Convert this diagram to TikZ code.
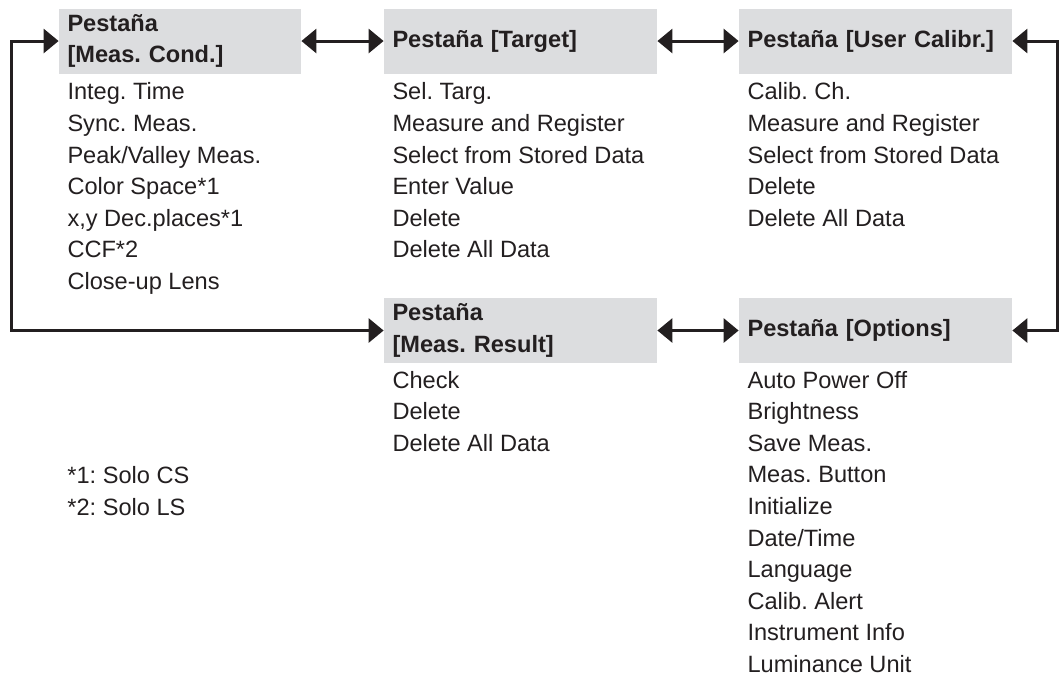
\documentclass[tikz,border=0pt]{standalone}
\usepackage{fontspec}
\setmainfont{Liberation Sans}
\usepackage{xcolor}
\usetikzlibrary{arrows.meta,positioning}

\definecolor{tabgray}{RGB}{220,221,223}
\definecolor{inkgray}{RGB}{35,31,32}

\begin{document}
\frenchspacing
\begin{tikzpicture}[
    x=0.5pt, y=-0.5pt,
    every node/.style={text=inkgray},
    tab/.style={fill=tabgray, text width=128pt, minimum height=32.5pt, inner xsep=4.25pt, inner ysep=0pt, align=left, font=\fontsize{11.8}{15.8}\selectfont\bfseries},
    items/.style={inner sep=0pt, align=left, font=\fontsize{11.8}{15.8}\selectfont},
    link/.style={{Triangle[length=7.5pt,width=12pt]}-{Triangle[length=7.5pt,width=12pt]}, line width=1.5pt, draw=inkgray}
]
    \useasboundingbox (0,0) rectangle (1059,677);

    % Tabs
    \node [tab, text width=112.5pt] (cond) at (180,41) {Pestaña\\{}[Meas. Cond.]};
    \node [tab] (targ) at (520.5,41) {Pestaña [Target]};
    \node [tab] (ucal) at (875.5,41) {Pestaña [User Calibr.]};
    \node [tab] (result) at (520.5,330.5) {Pestaña\\{}[Meas. Result]};
    \node [tab] (opts) at (875.5,330.5) {Pestaña [Options]};

    % Menu items
    \node [items, below right=4.2pt and 4.25pt of cond.south west] (condlist) {Integ. Time\\Sync. Meas.\\Peak/Valley Meas.\\Color Space*1\\x,y Dec.places*1\\CCF*2\\Close-up Lens};
    \node [items, below right=4.2pt and 4.25pt of targ.south west] (targlist) {Sel. Targ.\\Measure and Register\\Select from Stored Data\\Enter Value\\Delete\\Delete All Data};
    \node [items, below right=4.2pt and 4.25pt of ucal.south west] (ucallist) {Calib. Ch.\\Measure and Register\\Select from Stored Data\\Delete\\Delete All Data};
    \node [items, below right=3.6pt and 4.25pt of result.south west] (resultlist) {Check\\Delete\\Delete All Data};
    \node [items, below right=3.6pt and 4.25pt of opts.south west] (optslist) {Auto Power Off\\Brightness\\Save Meas.\\Meas. Button\\Initialize\\Date/Time\\Language\\Calib. Alert\\Instrument Info\\Luminance Unit};

    % Notes
    \node [items, anchor=north west] (notes) at (67,466) {*1: Solo CS\\{}*2: Solo LS};

    % Connections
    \draw [link] (cond) -- (targ);
    \draw [link] (targ) -- (ucal);
    \draw [link] (result) -- (opts);
    \draw [link] (cond.west) -- ++(-47,0) |- (result.west);
    \draw [link] (ucal.east) -- ++(45,0) |- (opts.east);

\end{tikzpicture}
\end{document}
